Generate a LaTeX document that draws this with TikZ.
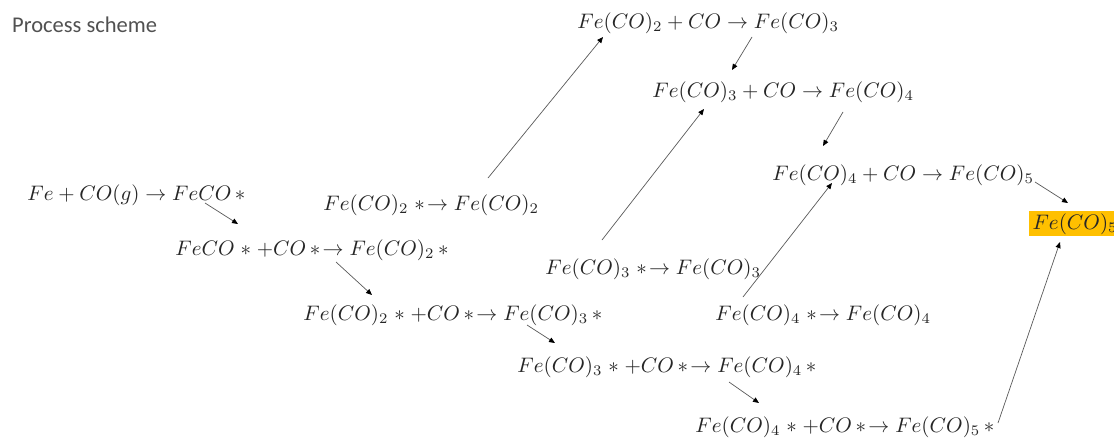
\documentclass[tikz,border=0pt]{standalone}
\usepackage{fontspec}
\newfontfamily\titlefont{Carlito}
\usetikzlibrary{arrows.meta}
\definecolor{hl}{HTML}{FFC000}
\definecolor{ink}{HTML}{262626}
\definecolor{linec}{HTML}{595959}
\tikzset{
  eq/.style={anchor=base west, inner sep=0pt, text=ink, scale=2.1},
  conn/.style={draw=linec, line width=0.7pt, -{Triangle[length=6pt,width=5pt,color=black,fill=black]}},
  title/.style={anchor=base west, inner sep=0pt, text=ink!80, font=\titlefont\fontsize{22.5}{26}\selectfont}
}
\begin{document}
\begin{tikzpicture}[x=1pt,y=-1pt]
\useasboundingbox (0,0) rectangle (1114,440);
\node[title] (title) at (12,32) {Process scheme};
\node[eq] (e1) at (27,200) {$Fe + CO(g) \rightarrow FeCO\,{\ast}$};
\node[eq] (e2) at (175,255) {$FeCO\;{\ast}\;{+}CO\,{\ast}\!\rightarrow Fe(CO)_2\,{\ast}$};
\node[eq] (e3) at (323,210) {$Fe(CO)_2\;{\ast}\!\rightarrow Fe(CO)_2$};
\node[eq] (e4) at (303,320) {$Fe(CO)_2\;{\ast}\;{+}CO\,{\ast}\!\rightarrow Fe(CO)_3\,{\ast}$};
\node[eq] (e5) at (577,28) {$Fe(CO)_2 + CO \rightarrow Fe(CO)_3$};
\node[eq] (e6) at (652,97) {$Fe(CO)_3 + CO \rightarrow Fe(CO)_4$};
\node[eq] (e7) at (545,274) {$Fe(CO)_3\;{\ast}\!\rightarrow Fe(CO)_3$};
\node[eq] (e8) at (517,372) {$Fe(CO)_3\;{\ast}\;{+}CO\,{\ast}\!\rightarrow Fe(CO)_4\,{\ast}$};
\node[eq] (e9) at (772,180) {$Fe(CO)_4 + CO \rightarrow Fe(CO)_5$};
\node[eq] (e10) at (715,320) {$Fe(CO)_4\;{\ast}\!\rightarrow Fe(CO)_4$};
\node[eq] (e11) at (695,432) {$Fe(CO)_4\;{\ast}\;{+}CO\,{\ast}\!\rightarrow Fe(CO)_5\,{\ast}$};
\node[eq, fill=hl, inner xsep=1.5pt, inner ysep=1pt] (fin) at (1029,229) {$Fe(CO)_5$};
% connector end points
\coordinate (a1s) at (205,203); \coordinate (a1e) at (238,224);
\coordinate (a2s) at (336,262); \coordinate (a2e) at (372,295);
\coordinate (a3s) at (527,325); \coordinate (a3e) at (555,343);
\coordinate (a4s) at (729,382); \coordinate (a4e) at (759,403);
\coordinate (a5s) at (488,178); \coordinate (a5e) at (603,37);
\coordinate (a6s) at (752,37);  \coordinate (a6e) at (732,70);
\coordinate (a7s) at (602,240); \coordinate (a7e) at (704,109);
\coordinate (a8s) at (843,112); \coordinate (a8e) at (823,146);
\coordinate (a9s) at (743,297); \coordinate (a9e) at (832,183);
\coordinate (a10s) at (1035,182); \coordinate (a10e) at (1068,203);
\coordinate (a11s) at (998,423); \coordinate (a11e) at (1060,242);
\draw[conn] (a1s) -- (a1e);
\draw[conn] (a2s) -- (a2e);
\draw[conn] (a3s) -- (a3e);
\draw[conn] (a4s) -- (a4e);
\draw[conn] (a5s) -- (a5e);
\draw[conn] (a6s) -- (a6e);
\draw[conn] (a7s) -- (a7e);
\draw[conn] (a8s) -- (a8e);
\draw[conn] (a9s) -- (a9e);
\draw[conn] (a10s) -- (a10e);
\draw[conn] (a11s) -- (a11e);
\end{tikzpicture}
\end{document}
